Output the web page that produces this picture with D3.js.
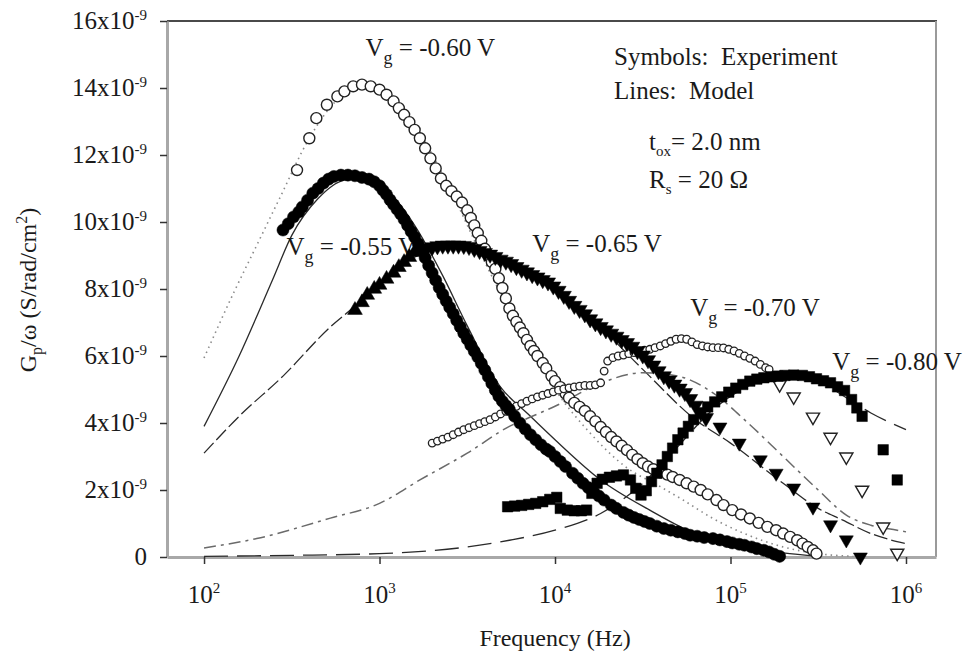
<!DOCTYPE html>
<html><head><meta charset="utf-8">
<script src="https://cdn.jsdelivr.net/npm/d3@7"></script>
<style>
body{margin:0;background:#fff}
svg{display:block}
text{font-family:"Liberation Serif","Times New Roman",serif;fill:#1a1a1a}
</style>
</head><body>
<svg id="c" width="973" height="662"></svg>
<script>
// ---- axis ticks ----
const xTicks = [1e2, 1e3, 1e4, 1e5, 1e6];
const xTickExp = ["2", "3", "4", "5", "6"];
const yTicks = [0, 2, 4, 6, 8, 10, 12, 14, 16];   // in units of 1e-9

// ---- data: [log10(frequency / Hz), Gp/omega in 1e-9 S/rad/cm^2] ----
// Vg = -0.60 V (open circles, dotted model)
const vg060Exp = [[2.53,11.55],[2.6,12.5],[2.64,13.1],[2.7,13.5],[2.76,13.75],[2.8,13.9],[2.85,14.05],[2.9,14.1],[2.95,14.05],[3.0,13.95],[3.04,13.8],[3.08,13.6],[3.11,13.4],[3.14,13.2],[3.17,12.98],[3.2,12.75],[3.23,12.5],[3.26,12.2],[3.29,11.9],[3.32,11.6],[3.35,11.3],[3.38,11.08],[3.41,10.92],[3.44,10.76],[3.47,10.58],[3.5,10.35],[3.52,10.12],[3.54,9.9],[3.56,9.67],[3.58,9.44],[3.6,9.2],[3.62,9.0],[3.64,8.8],[3.66,8.6],[3.68,8.32],[3.7,8.03],[3.72,7.72],[3.74,7.42],[3.76,7.2],[3.78,7.02],[3.8,6.85],[3.82,6.68],[3.84,6.48],[3.86,6.3],[3.88,6.15],[3.9,6.0],[3.93,5.79],[3.95,5.63],[3.98,5.4],[4.0,5.25],[4.03,5.07],[4.06,4.88],[4.08,4.75],[4.11,4.6],[4.14,4.48],[4.17,4.36],[4.2,4.2],[4.23,4.05],[4.26,3.88],[4.29,3.73],[4.32,3.58],[4.35,3.45],[4.38,3.32],[4.41,3.19],[4.44,3.05],[4.47,2.92],[4.5,2.8],[4.53,2.7],[4.56,2.62],[4.6,2.53],[4.64,2.46],[4.67,2.39],[4.71,2.3],[4.75,2.2],[4.79,2.1],[4.83,2.0],[4.87,1.87],[4.92,1.7],[4.96,1.55],[5.01,1.4],[5.06,1.27],[5.11,1.15],[5.16,1.02],[5.21,0.9],[5.26,0.8],[5.3,0.7],[5.34,0.6],[5.38,0.5],[5.41,0.4],[5.44,0.3],[5.47,0.2],[5.49,0.1]];
const vg060Model = [[2.0,5.94],[2.17,7.9],[2.3,9.3],[2.43,10.7],[2.6,12.5],[2.75,13.6],[2.9,14.0],[3.05,13.8],[3.2,12.9],[3.4,11.0],[3.6,8.8],[3.8,6.8],[4.0,5.0],[4.2,3.7],[4.4,2.7],[4.6,2.1],[4.73,1.7],[4.9,1.15],[5.07,0.72],[5.3,0.3],[5.5,0.1],[5.7,0.02]];

// Vg = -0.55 V (filled circles, solid model)
const vg055Exp = [[2.45,9.76],[2.48,9.95],[2.51,10.15],[2.54,10.3],[2.56,10.45],[2.59,10.65],[2.62,10.86],[2.65,11.0],[2.68,11.16],[2.71,11.28],[2.74,11.36],[2.78,11.4],[2.82,11.4],[2.86,11.38],[2.9,11.33],[2.94,11.28],[2.97,11.2],[3.0,11.08],[3.02,10.95],[3.04,10.82],[3.06,10.66],[3.08,10.52],[3.1,10.38],[3.12,10.24],[3.14,10.08],[3.16,9.9],[3.18,9.72],[3.2,9.55],[3.22,9.36],[3.24,9.15],[3.26,8.93],[3.28,8.7],[3.3,8.48],[3.32,8.26],[3.34,8.04],[3.36,7.84],[3.38,7.64],[3.4,7.45],[3.42,7.26],[3.44,7.06],[3.46,6.87],[3.48,6.68],[3.5,6.5],[3.52,6.32],[3.54,6.14],[3.56,5.97],[3.58,5.78],[3.6,5.58],[3.62,5.38],[3.64,5.18],[3.66,4.98],[3.68,4.8],[3.7,4.65],[3.72,4.52],[3.74,4.4],[3.77,4.2],[3.8,4.0],[3.83,3.82],[3.86,3.65],[3.89,3.5],[3.92,3.35],[3.95,3.22],[3.97,3.15],[4.0,3.0],[4.03,2.85],[4.06,2.7],[4.1,2.5],[4.13,2.35],[4.16,2.2],[4.19,2.07],[4.22,1.95],[4.25,1.82],[4.28,1.7],[4.32,1.55],[4.35,1.45],[4.39,1.33],[4.42,1.25],[4.45,1.18],[4.48,1.12],[4.51,1.06],[4.54,1.0],[4.58,0.92],[4.62,0.85],[4.66,0.8],[4.7,0.75],[4.74,0.7],[4.77,0.65],[4.81,0.62],[4.85,0.58],[4.9,0.55],[4.94,0.51],[4.98,0.46],[5.01,0.42],[5.05,0.38],[5.08,0.35],[5.12,0.3],[5.15,0.25],[5.19,0.2],[5.22,0.15],[5.25,0.08],[5.28,0.02]];
const vg055Model = [[2.0,3.9],[2.2,6.0],[2.39,8.27],[2.5,9.6],[2.65,10.7],[2.8,11.25],[2.9,11.3],[3.05,10.9],[3.2,9.9],[3.36,8.4],[3.5,6.9],[3.69,5.07],[3.84,4.3],[4.0,3.5],[4.26,2.3],[4.54,1.4],[4.8,0.7],[5.0,0.4],[5.3,0.12],[5.5,0.02]];

// Vg = -0.65 V (filled triangles, dashed model)
const vg065Rise = [[2.86,7.37],[2.9,7.6],[2.93,7.82],[2.97,8.0],[3.0,8.12],[3.04,8.3],[3.08,8.48],[3.11,8.65],[3.14,8.8],[3.17,8.95],[3.2,9.1]];
const vg065Band = [[3.24,9.18],[3.27,9.22],[3.3,9.25],[3.33,9.28],[3.36,9.3],[3.39,9.3],[3.42,9.3],[3.45,9.3],[3.48,9.29],[3.51,9.26],[3.54,9.2],[3.57,9.14],[3.6,9.08],[3.63,9.03],[3.66,8.96],[3.69,8.88],[3.72,8.82],[3.75,8.75],[3.78,8.66],[3.81,8.58],[3.84,8.5],[3.87,8.42],[3.9,8.35],[3.93,8.27],[3.96,8.2],[3.99,8.08],[4.02,7.95],[4.05,7.8],[4.08,7.65],[4.11,7.5],[4.14,7.38],[4.17,7.25],[4.2,7.1],[4.23,6.98],[4.26,6.87],[4.29,6.77],[4.32,6.67],[4.35,6.58],[4.38,6.48],[4.41,6.39],[4.44,6.28],[4.47,6.15],[4.5,6.02],[4.53,5.88],[4.56,5.72],[4.59,5.55],[4.62,5.4],[4.65,5.27],[4.68,5.15],[4.71,5.03],[4.74,4.9],[4.77,4.72],[4.8,4.52],[4.83,4.32],[4.86,4.15]];
const vg065Tail = [[4.94,3.88],[5.05,3.4],[5.17,2.9],[5.26,2.5],[5.36,2.06],[5.47,1.49],[5.57,0.96],[5.66,0.51],[5.74,0.0]];
const vg065Model = [[2.0,3.1],[2.2,4.2],[2.45,5.4],[2.72,6.87],[2.85,7.45],[3.0,8.2],[3.2,8.95],[3.4,9.25],[3.55,9.2],[3.75,8.8],[4.0,8.0],[4.25,6.9],[4.5,5.6],[4.8,4.1],[5.0,3.4],[5.3,2.2],[5.5,1.45],[5.64,1.1],[5.8,0.7],[6.0,0.4]];

// Vg = -0.70 V (small open markers, then open triangles; dash-dot model)
const vg070Band = [[3.3,3.4],[3.33,3.46],[3.36,3.52],[3.39,3.58],[3.42,3.65],[3.45,3.73],[3.48,3.8],[3.51,3.86],[3.54,3.92],[3.57,3.98],[3.6,4.04],[3.63,4.1],[3.66,4.18],[3.69,4.27],[3.72,4.35],[3.75,4.42],[3.78,4.5],[3.81,4.58],[3.84,4.65],[3.87,4.72],[3.9,4.78],[3.93,4.83],[3.96,4.88],[3.99,4.93],[4.02,4.98],[4.05,5.02],[4.08,5.05],[4.11,5.08],[4.14,5.1],[4.17,5.12],[4.2,5.12],[4.23,5.14],[4.26,5.2],[4.28,5.55],[4.3,5.85],[4.33,5.95],[4.36,6.0],[4.39,6.03],[4.42,6.07],[4.45,6.1],[4.48,6.13],[4.51,6.17],[4.54,6.2],[4.57,6.25],[4.6,6.3],[4.63,6.37],[4.66,6.44],[4.69,6.5],[4.72,6.52],[4.75,6.5],[4.78,6.42],[4.81,6.34],[4.84,6.3],[4.87,6.27],[4.9,6.25],[4.93,6.25],[4.96,6.24],[4.99,6.2],[5.02,6.15],[5.05,6.08],[5.08,6.0],[5.11,5.93],[5.14,5.85],[5.17,5.75],[5.2,5.65],[5.22,5.6]];
const vg070Tail = [[5.28,5.15],[5.36,4.78],[5.47,4.18],[5.57,3.58],[5.66,2.99],[5.75,2.0],[5.87,0.9],[5.95,0.12]];
const vg070Model = [[2.0,0.27],[2.3,0.55],[2.72,1.16],[3.0,1.6],[3.23,2.3],[3.5,3.1],[3.74,3.9],[3.87,4.2],[4.0,4.5],[4.26,5.19],[4.5,5.5],[4.7,5.4],[4.9,4.9],[5.1,4.0],[5.3,3.0],[5.5,2.0],[5.66,1.25],[5.8,0.95],[5.95,0.8],[6.0,0.75]];

// Vg = -0.80 V (filled squares, long-dash model)
const vg080Exp = [[3.73,1.5],[3.77,1.52],[3.81,1.54],[3.85,1.57],[3.89,1.6],[3.93,1.65],[3.97,1.72],[4.01,1.78],[4.03,1.45],[4.07,1.4],[4.11,1.38],[4.15,1.38],[4.18,1.4],[4.21,1.9],[4.24,2.2],[4.27,2.32],[4.31,2.38],[4.35,2.42],[4.39,2.45],[4.43,2.3],[4.46,2.05],[4.49,1.85],[4.52,1.98],[4.55,2.25],[4.58,2.5],[4.61,2.75],[4.64,3.0],[4.67,3.25],[4.7,3.5],[4.73,3.7],[4.76,3.9],[4.79,4.1],[4.83,4.3],[4.87,4.48],[4.91,4.63],[4.95,4.78],[4.99,4.92],[5.03,5.04],[5.07,5.15],[5.11,5.25],[5.15,5.31],[5.19,5.35],[5.23,5.38],[5.27,5.4],[5.31,5.42],[5.36,5.43],[5.41,5.42],[5.45,5.38],[5.49,5.32],[5.53,5.26],[5.57,5.2],[5.61,5.08],[5.65,4.97],[5.69,4.7],[5.72,4.45],[5.75,4.2],[5.87,3.2],[5.95,2.3]];
const vg080Model = [[2.0,0.02],[2.5,0.05],[3.0,0.1],[3.5,0.3],[3.74,0.5],[4.0,0.8],[4.26,1.3],[4.5,2.2],[4.7,3.3],[4.9,4.4],[5.1,5.1],[5.3,5.45],[5.45,5.4],[5.6,4.95],[5.8,4.3],[6.0,3.8]];

// ---- annotations ----
const labels = [
  {v:"-0.60 V", lx:2.92, ly:14.95},
  {v:"-0.55 V", lx:2.47, ly:9.02},
  {v:"-0.65 V", lx:3.87, ly:9.1},
  {v:"-0.70 V", lx:4.77, ly:7.2},
  {v:"-0.80 V", lx:5.58, ly:5.58}
];

// ---- layout ----
const frame = {l:167, r:936, t:21, b:557};
const svg = d3.select("#c");
const x = d3.scaleLog().domain([Math.pow(10,1.789), Math.pow(10,6.171)]).range([frame.l, frame.r]);
const y = d3.scaleLinear().domain([0,16]).range([frame.b, frame.t]);
const px = d => x(Math.pow(10, d[0]));
const py = d => y(d[1]);

// frame top/right
svg.append("line").attr("x1",frame.l).attr("x2",frame.r+1).attr("y1",frame.t).attr("y2",frame.t)
  .attr("stroke","#4a4a4a").attr("stroke-width",2);
svg.append("line").attr("x1",frame.r).attr("x2",frame.r).attr("y1",frame.t).attr("y2",frame.b)
  .attr("stroke","#9a9a9a").attr("stroke-width",2);

// axes
const gy = svg.append("g").attr("transform",`translate(${frame.l},0)`)
  .call(d3.axisLeft(y).tickValues(yTicks).tickSize(7).tickSizeOuter(0).tickFormat(()=>""));
const gx = svg.append("g").attr("transform",`translate(0,${frame.b})`)
  .call(d3.axisBottom(x).tickValues(xTicks).tickSize(7).tickSizeOuter(0).tickFormat(()=>""));
[gy,gx].forEach(g=>{
  g.select(".domain").attr("stroke","#a8a8a8").attr("stroke-width",3);
  g.selectAll(".tick line").attr("stroke","#333").attr("stroke-width",1.5);
});

// y tick labels
yTicks.forEach(t=>{
  const tx = svg.append("text").attr("x",147).attr("y",y(t)+8).attr("text-anchor","end").style("font-size","25px");
  if (t===0) { tx.text("0"); }
  else {
    tx.append("tspan").text(t+"x10");
    tx.append("tspan").attr("dy",-9).style("font-size","15px").text("-9");
  }
});
// x tick labels
xTicks.forEach((t,i)=>{
  const tx = svg.append("text").attr("x",x(t)).attr("y",603).attr("text-anchor","middle").style("font-size","25px");
  tx.append("tspan").text("10");
  tx.append("tspan").attr("dy",-10).style("font-size","15px").text(xTickExp[i]);
});

// axis titles
svg.append("text").attr("x",x(1e4)).attr("y",646).attr("text-anchor","middle").style("font-size","24px").text("Frequency (Hz)");
const yt = svg.append("text").attr("transform","translate(36,290) rotate(-90)").attr("text-anchor","middle").style("font-size","24px");
yt.append("tspan").text("G");
yt.append("tspan").attr("dy",6).style("font-size","16px").text("p");
yt.append("tspan").attr("dy",-6).text("/\u03c9 (S/rad/cm");
yt.append("tspan").attr("dy",-9).style("font-size","16px").text("2");
yt.append("tspan").attr("dy",9).text(")");

// model lines
const line = d3.line().x(px).y(py).curve(d3.curveMonotoneX);
const models = [
  {d:vg060Model, c:"#8a8a8a", w:1.6, dash:"1.5,4"},
  {d:vg055Model, c:"#2a2a2a", w:1.3, dash:null},
  {d:vg065Model, c:"#2a2a2a", w:1.3, dash:"14,4"},
  {d:vg070Model, c:"#6a6a6a", w:1.5, dash:"12,5,3,5"},
  {d:vg080Model, c:"#2a2a2a", w:1.3, dash:"24,9"}
];
models.forEach(m=>{
  svg.append("path").attr("d",line(m.d)).attr("fill","none").attr("stroke",m.c)
    .attr("stroke-width",m.w).attr("stroke-dasharray",m.dash);
});

// annotation labels
labels.forEach(l=>{
  const t = svg.append("text").attr("x",x(Math.pow(10,l.lx))).attr("y",y(l.ly)).style("font-size","25px");
  t.append("tspan").text("V");
  t.append("tspan").attr("dy",8).style("font-size","18px").text("g");
  t.append("tspan").attr("dy",-8).text(" = " + l.v);
});

// legend text
svg.append("text").attr("x",614).attr("y",65).style("font-size","25px").text("Symbols:\u00a0 Experiment");
svg.append("text").attr("x",614).attr("y",99).style("font-size","25px").text("Lines:\u00a0 Model");
const t1 = svg.append("text").attr("x",649).attr("y",150).style("font-size","25px");
t1.append("tspan").text("t");
t1.append("tspan").attr("dy",6).style("font-size","15px").text("ox");
t1.append("tspan").attr("dy",-6).text("= 2.0 nm");
const t2 = svg.append("text").attr("x",649).attr("y",188).style("font-size","25px");
t2.append("tspan").text("R");
t2.append("tspan").attr("dy",6).style("font-size","15px").text("s");
t2.append("tspan").attr("dy",-6).text(" = 20 \u03a9");

// markers
function markers(data, type, size, fill, stroke, sw, rot){
  const sym = d3.symbol().type(type).size(size);
  svg.append("g").selectAll("path").data(data).join("path")
    .attr("d", sym)
    .attr("transform", d=>`translate(${px(d)},${py(d)}) rotate(${rot||0})`)
    .attr("fill", fill).attr("stroke", stroke).attr("stroke-width", sw);
}
markers(vg060Exp, d3.symbolCircle, 95, "#fff", "#222", 1.4);
markers(vg070Band, d3.symbolCircle, 45, "#fff", "#222", 1.3);
markers(vg070Tail, d3.symbolTriangle, 75, "#fff", "#222", 1.4, 180);
markers(vg055Exp, d3.symbolCircle, 115, "#000", "#000", 0.5);
markers(vg065Rise, d3.symbolTriangle, 95, "#000", "#000", 0.5);
markers(vg065Band, d3.symbolTriangle, 100, "#000", "#000", 0.5, 180);
markers(vg065Tail, d3.symbolTriangle, 85, "#000", "#000", 0.5, 180);
markers(vg080Exp, d3.symbolSquare, 110, "#000", "#000", 0.5);
</script>
</body></html>
